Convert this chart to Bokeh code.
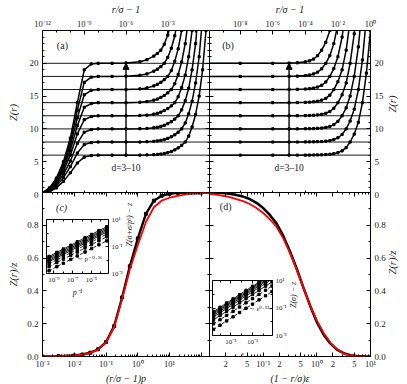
import math
import numpy as np
from bokeh.plotting import figure
from bokeh.models import (GridBox, Column, LogAxis, LinearAxis, FixedTicker, CustomJSTickFormatter,
                          Span, Label, Arrow, NormalHead, Range1d)
from bokeh.embed import file_html
from bokeh.resources import INLINE

NaN = float("nan")

# ---------------- data ----------------
d_values = [3, 4, 5, 6, 7, 8, 9, 10]
z_levels = [6, 8, 10, 12, 14, 16, 18, 20]   # z = 2d

# panel (a): Z(r) vs r/sigma - 1 at finite pressure
x_a = [1e-12, 3.2e-12, 1e-11, 3.2e-11, 1e-10, 3.2e-10, 1e-9, 3.2e-9, 1e-8, 1e-7, 1e-6, 1e-5,
       3.2e-5, 1e-4, 1.8e-4, 3.2e-4, 5.6e-4, 1e-3, 1.8e-3, 3.2e-3, 5.6e-3, 1e-2, 1.8e-2,
       3.2e-2, 5.6e-2, 0.1, 0.18, 0.32, 0.56, 1.0]
Za_d3 = [0.1, 0.4, 1.0, 2.0, 3.3, 4.8, 5.7, 5.94, 6.0, 6.0, 6.0, 6.0, 6.03, 6.07, 6.1, 6.17, 6.25,
         6.38, 6.55, 6.8, 7.1, 7.5, 8.0, 8.9, 10.3, 12.2, 15.0, 19.0, 25.0, 33.0]
Za_d4 = [0.14, 0.52, 1.28, 2.56, 4.24, 6.32, 7.6, 7.92, 8.0, 8.0, 8.0, 8.0, 8.05, 8.1, 8.17, 8.25,
         8.38, 8.55, 8.8, 9.1, 9.5, 10.0, 10.9, 12.3, 14.2, 17.0, 21.0, 27.0, NaN, NaN]
Za_d5 = [0.16, 0.62, 1.55, 3.1, 5.1, 7.8, 9.5, 9.9, 10.0, 10.0, 10.0, 10.03, 10.07, 10.17, 10.25,
         10.38, 10.55, 10.8, 11.1, 11.5, 12.0, 12.9, 14.3, 16.2, 19.0, 23.0, 29.0, NaN, NaN, NaN]
Za_d6 = [0.19, 0.72, 1.8, 3.6, 6.0, 9.24, 11.4, 11.88, 12.0, 12.0, 12.0, 12.05, 12.1, 12.25, 12.38,
         12.55, 12.8, 13.1, 13.5, 14.0, 14.9, 16.3, 18.2, 21.0, 25.0, 31.0, NaN, NaN, NaN, NaN]
Za_d7 = [0.22, 0.8, 1.96, 4.06, 6.72, 10.5, 13.3, 13.86, 14.0, 14.0, 14.0, 14.07, 14.17, 14.38,
         14.55, 14.8, 15.1, 15.5, 16.0, 16.9, 18.3, 20.2, 23.0, 27.0, NaN, NaN, NaN, NaN, NaN, NaN]
Za_d8 = [0.24, 0.88, 2.16, 4.4, 7.44, 11.68, 15.2, 15.89, 16.0, 16.0, 16.0, 16.1, 16.25, 16.55,
         16.8, 17.1, 17.5, 18.0, 18.9, 20.3, 22.2, 25.0, 29.0, NaN, NaN, NaN, NaN, NaN, NaN, NaN]
Za_d9 = [0.27, 0.94, 2.34, 4.68, 8.0, 12.87, 17.1, 17.89, 18.0, 18.0, 18.03, 18.17, 18.38, 18.8,
         19.1, 19.5, 20.0, 20.9, 22.3, 24.2, 27.0, NaN, NaN, NaN, NaN, NaN, NaN, NaN, NaN, NaN]
Za_d10 = [0.3, 1.0, 2.5, 5.0, 8.6, 14.0, 19.0, 19.9, 20.0, 20.0, 20.05, 20.25, 20.55, 21.1, 21.5,
          22.0, 22.9, 24.3, 26.2, NaN, NaN, NaN, NaN, NaN, NaN, NaN, NaN, NaN, NaN, NaN]

# panel (b): Z(r) vs r/sigma - 1 at jamming
x_b = [1e-10, 1e-8, 1e-6, 1e-5, 3.2e-5, 1e-4, 1.8e-4, 3.2e-4, 5.6e-4, 1e-3, 1.8e-3, 3.2e-3,
       5.6e-3, 1e-2, 1.8e-2, 3.2e-2, 5.6e-2, 0.1, 0.18, 0.32, 0.56, 1.0]
Zb_d3 = [6, 6, 6, 6, 6, 6.0, 6.01, 6.02, 6.03, 6.05, 6.08, 6.13, 6.22, 6.38, 6.65, 7.15, 8.0, 9.2,
         11.0, 14.0, 18.5, 25.0]
Zb_d4 = [8, 8, 8, 8, 8, 8.01, 8.02, 8.03, 8.05, 8.08, 8.13, 8.22, 8.38, 8.65, 9.15, 10.0, 11.2,
         13.0, 16.0, 20.5, 27.0, NaN]
Zb_d5 = [10, 10, 10, 10, 10.0, 10.02, 10.03, 10.05, 10.08, 10.13, 10.22, 10.38, 10.65, 11.15, 12.0,
         13.2, 15.0, 18.0, 22.5, 29.0, NaN, NaN]
Zb_d6 = [12, 12, 12, 12, 12.01, 12.03, 12.05, 12.08, 12.13, 12.22, 12.38, 12.65, 13.15, 14.0, 15.2,
         17.0, 20.0, 24.5, 31.0, NaN, NaN, NaN]
Zb_d7 = [14, 14, 14, 14.0, 14.02, 14.05, 14.08, 14.13, 14.22, 14.38, 14.65, 15.15, 16.0, 17.2, 19.0,
         22.0, 26.5, NaN, NaN, NaN, NaN, NaN]
Zb_d8 = [16, 16, 16, 16.01, 16.03, 16.08, 16.13, 16.22, 16.38, 16.65, 17.15, 18.0, 19.2, 21.0, 24.0,
         28.5, NaN, NaN, NaN, NaN, NaN, NaN]
Zb_d9 = [18, 18, 18, 18.02, 18.05, 18.13, 18.22, 18.38, 18.65, 19.15, 20.0, 21.2, 23.0, 26.0, NaN,
         NaN, NaN, NaN, NaN, NaN, NaN, NaN]
Zb_d10 = [20, 20, 20, 20.03, 20.08, 20.22, 20.38, 20.65, 21.15, 22.0, 23.2, 25.0, 28.0, NaN, NaN,
          NaN, NaN, NaN, NaN, NaN, NaN, NaN]

# panel (c): Z(r)/z vs (r/sigma - 1) p
x_c = [1e-3, 3.2e-3, 1e-2, 1.8e-2, 3.2e-2, 5.6e-2, 0.1, 0.18, 0.32, 0.56, 1.0, 1.8, 3.2, 5.6, 10,
       18, 32, 100, 200]
theory_c = [0.0, 0.002, 0.006, 0.012, 0.022, 0.042, 0.085, 0.18, 0.35, 0.53, 0.68, 0.82, 0.91, 0.95,
            0.968, 0.98, 0.988, 0.996, 0.999]
data_c = [0.0, 0.002, 0.006, 0.012, 0.023, 0.044, 0.088, 0.185, 0.36, 0.55, 0.72, 0.87, 0.95, 0.98,
          0.992, 0.998, 1.0, 1.0, 1.0]

# panel (d): Z(r)/z vs (1 - r/sigma) eps
x_d = [0.01, 0.0133, 0.0178, 0.0237, 0.0316, 0.0422, 0.0562, 0.075, 0.1, 0.133, 0.178, 0.237, 0.316,
       0.422, 0.562, 0.75, 1.0, 1.33, 1.78, 2.37, 3.16, 4.22, 5.62, 7.5, 10.0]
theory_d = [0.99, 0.987, 0.98, 0.972, 0.96, 0.947, 0.93, 0.905, 0.875, 0.837, 0.79, 0.72, 0.63, 0.53,
            0.42, 0.31, 0.22, 0.145, 0.085, 0.045, 0.018, 0.006, 0.002, 0.0005, 0.0]
data_d = [1.0, 0.999, 0.997, 0.993, 0.985, 0.975, 0.96, 0.937, 0.905, 0.863, 0.81, 0.735, 0.64, 0.535,
          0.42, 0.31, 0.21, 0.135, 0.08, 0.042, 0.02, 0.007, 0.003, 0.001, 0.0]

# inset (c): Z(sigma + sigma/p^gamma) - z vs 1/p
xi_c = [3e-10, 2e-9, 1e-8, 6e-8, 3e-7, 2e-6, 1e-5, 6e-5, 4e-4]
ic_d3 = [0.0016, 0.0032, 0.0058, 0.011, 0.02, 0.039, 0.07, 0.134, 0.26]
ic_d4 = [0.0032, 0.0065, 0.0116, 0.022, 0.039, 0.078, 0.139, 0.266, 0.52]
ic_d5 = [0.0052, 0.0103, 0.0183, 0.035, 0.062, 0.124, 0.222, 0.42, 0.82]
ic_d6 = [0.0073, 0.0146, 0.026, 0.0495, 0.088, 0.175, 0.312, 0.595, 1.16]
ic_d7 = [0.0092, 0.0183, 0.0327, 0.0623, 0.111, 0.222, 0.393, 0.75, 1.46]
ic_d8 = [0.0116, 0.0232, 0.0412, 0.0784, 0.139, 0.278, 0.495, 0.943, 1.83]
ic_d9 = [0.0146, 0.0291, 0.0519, 0.0987, 0.175, 0.35, 0.623, 1.18, 2.32]
ic_d10 = [0.0183, 0.0367, 0.0652, 0.124, 0.222, 0.441, 0.784, 1.5, 2.91]

# inset (d): Z(sigma) - z vs eps
xi_d = [2.5e-7, 1e-6, 4e-6, 1.6e-5, 6.3e-5, 2.5e-4, 1e-3, 4e-3, 1.6e-2, 6.3e-2]
id_d3 = [0.00282, 0.00562, 0.0115, 0.0229, 0.0468, 0.0955, 0.191, 0.389, 0.776, 1.58]
id_d4 = [0.00708, 0.0141, 0.0288, 0.0575, 0.117, 0.240, 0.479, 0.977, 1.95, 3.98]
id_d5 = [0.0141, 0.0282, 0.0575, 0.115, 0.234, 0.479, 0.955, 1.95, 3.89, 7.94]
id_d6 = [0.0224, 0.0447, 0.0912, 0.182, 0.372, 0.759, 1.51, 3.09, 6.17, 12.6]
id_d7 = [0.0295, 0.0589, 0.120, 0.240, 0.490, 1.0, 2.0, 4.07, 8.13, 16.6]
id_d8 = [0.0372, 0.0741, 0.151, 0.302, 0.617, 1.26, 2.51, 5.13, 10.2, 20.9]
id_d9 = [0.0457, 0.0912, 0.186, 0.372, 0.759, 1.55, 3.09, 6.31, 12.6, 25.7]
id_d10 = [0.0562, 0.112, 0.229, 0.457, 0.933, 1.91, 3.80, 7.76, 15.5, 31.6]

arrow_x_a = 1e-6
arrow_x_b = 1e-5
arrow_z = [6, 20]

# ---------------- layout / style ----------------
W, H = 405, 383
XL, XM, XR = 42, 209, 370
YT, YM, YB = 28, 192, 356
FONT = "Liberation Serif"
TXT = "#222222"

SUP_CODE = """
const sup = {'-':'\u207b','0':'\u2070','1':'\u00b9','2':'\u00b2','3':'\u00b3','4':'\u2074',
             '5':'\u2075','6':'\u2076','7':'\u2077','8':'\u2078','9':'\u2079'};
if (tick > 50 && tick < 500) { return ''; }
const e = Math.floor(Math.log10(tick) + 1e-9);
const m = Math.round(tick / Math.pow(10, e));
if (m === 1) { return '10' + String(e).split('').map(c => sup[c]).join(''); }
return String(m);
"""


def SUP():
    return CustomJSTickFormatter(code=SUP_CODE)


def EMPTY():
    return CustomJSTickFormatter(code="return '';")


def INT():
    return CustomJSTickFormatter(code="return tick.toFixed(0);")


def ONEDEC():
    return CustomJSTickFormatter(code="return tick > 0.95 ? '' : tick.toFixed(1);")


def make_panel(xr, yr, xlog, ylog, left, right, top, bottom):
    p = figure(frame_width=W - left - right, frame_height=H - top - bottom,
               x_range=Range1d(*xr), y_range=Range1d(*yr),
               x_axis_type="log" if xlog else "linear",
               y_axis_type="log" if ylog else "linear",
               x_axis_location=None, y_axis_location=None,
               toolbar_location=None, output_backend="svg",
               min_border_left=left, min_border_right=right,
               min_border_top=top, min_border_bottom=bottom)
    p.background_fill_color = "white"
    p.border_fill_color = None
    p.outline_line_color = "black"
    p.outline_line_width = 1
    p.grid.grid_line_color = None
    return p


def add_axis(p, side, log, ticks, minor, fmt, title=None, label_fs="9px", title_fs="10.5px",
             standoff=2, title_standoff=3, tick_in=4, minor_in=2):
    A = LogAxis if log else LinearAxis
    ax = A(ticker=FixedTicker(ticks=ticks, minor_ticks=minor), formatter=fmt)
    ax.axis_line_color = None
    ax.major_tick_in = tick_in
    ax.major_tick_out = 0
    ax.minor_tick_in = minor_in
    ax.minor_tick_out = 0
    ax.major_tick_line_color = "black"
    ax.minor_tick_line_color = "black"
    ax.major_label_text_font = FONT
    ax.major_label_text_font_size = label_fs
    ax.major_label_text_color = TXT
    ax.major_label_standoff = standoff
    if title:
        ax.axis_label = title
        ax.axis_label_text_font = FONT
        ax.axis_label_text_font_style = "italic"
        ax.axis_label_text_font_size = title_fs
        ax.axis_label_text_color = TXT
        ax.axis_label_standoff = title_standoff
        if side == "right" and "axis_label_orientation" in ax.properties():
            ax.axis_label_orientation = math.pi / 2
    p.add_layout(ax, side)
    return ax


def note(p, x, y, text, size="10px", style="normal", align="center"):
    p.add_layout(Label(x=x, y=y, text=text, text_font=FONT, text_font_size=size,
                       text_font_style=style, text_color=TXT, text_align=align,
                       text_baseline="middle"))


decades_a = [1e-12, 1e-9, 1e-6, 1e-3]
minor_a = [1e-11, 1e-10, 1e-8, 1e-7, 1e-5, 1e-4, 1e-2, 1e-1]
decades_b = [1e-8, 1e-6, 1e-4, 1e-2, 1.0]
minor_b = [1e-9, 1e-7, 1e-5, 1e-3, 1e-1]
z_ticks = [0, 5, 10, 15, 20]
z_minor = [v for v in range(1, 25) if v % 5 != 0]
f_ticks = [0, 0.2, 0.4, 0.6, 0.8, 1.0]
f_minor = [0.1, 0.3, 0.5, 0.7, 0.9]

curves_a = [Za_d3, Za_d4, Za_d5, Za_d6, Za_d7, Za_d8, Za_d9, Za_d10]
curves_b = [Zb_d3, Zb_d4, Zb_d5, Zb_d6, Zb_d7, Zb_d8, Zb_d9, Zb_d10]

# ---- (a) ----
pa = make_panel((1e-12, 1.0), (0, 25), True, False, XL, W - XM, YT, H - YM)
add_axis(pa, "above", True, decades_a, minor_a, SUP(), "r/\u03c3 \u2212 1", label_fs="8.5px",
         title_fs="10px", standoff=2, title_standoff=1)
add_axis(pa, "below", True, decades_a, minor_a, EMPTY())
add_axis(pa, "left", False, z_ticks, z_minor, INT(), "Z(r)", standoff=4, title_standoff=8)
add_axis(pa, "right", False, z_ticks, z_minor, EMPTY())
for z in z_levels:
    pa.add_layout(Span(location=z, dimension="width", line_color="black", line_width=0.9))
for zs in curves_a:
    arr = np.array(zs, dtype=float)
    pa.line(x_a, arr, line_color="black", line_width=1.5)
    pa.scatter(x_a, arr, marker="square", size=2.2, color="black")
pa.add_layout(Arrow(end=NormalHead(size=6, fill_color="black", line_color="black"),
                    x_start=arrow_x_a, y_start=arrow_z[0], x_end=arrow_x_a, y_end=arrow_z[1],
                    line_width=1.4, line_color="black"))
note(pa, 1e-6, 4.1, "d=3\u201310", size="9.5px")
note(pa, 2.7e-11, 22.7, "(a)", size="10px")

# ---- (b) ----
pb = make_panel((1.3e-10, 1.0), (0, 25), True, False, XM, W - XR, YT, H - YM)
add_axis(pb, "above", True, decades_b, minor_b, SUP(), "r/\u03c3 \u2212 1", label_fs="8.5px",
         title_fs="10px", standoff=2, title_standoff=1)
add_axis(pb, "below", True, decades_b, minor_b, EMPTY())
add_axis(pb, "right", False, z_ticks, z_minor, INT(), "Z(r)", standoff=4, title_standoff=6)
add_axis(pb, "left", False, z_ticks, z_minor, EMPTY())
for z in z_levels:
    pb.add_layout(Span(location=z, dimension="width", line_color="black", line_width=0.9))
for zs in curves_b:
    arr = np.array(zs, dtype=float)
    pb.line(x_b, arr, line_color="black", line_width=1.5)
    pb.scatter(x_b, arr, marker="square", size=2.2, color="black")
pb.add_layout(Arrow(end=NormalHead(size=6, fill_color="black", line_color="black"),
                    x_start=arrow_x_b, y_start=arrow_z[0], x_end=arrow_x_b, y_end=arrow_z[1],
                    line_width=1.4, line_color="black"))
note(pb, 1e-5, 4.1, "d=3\u201310", size="9.5px")
note(pb, 1.8e-9, 22.7, "(b)", size="10px")

# ---- (c) ----
c_major = [1e-3, 1e-2, 1e-1, 1.0, 10.0, 100.0]
c_minor = [m * 10.0 ** e for e in range(-3, 3) for m in range(2, 10) if m * 10.0 ** e < 180]
pc = make_panel((1e-3, 180), (0, 1), True, False, XL, W - XM, YM, H - YB)
add_axis(pc, "below", True, c_major, c_minor, SUP(), "(r/\u03c3 \u2212 1)p", label_fs="8.5px",
         title_fs="10px", standoff=2, title_standoff=1)
add_axis(pc, "above", True, c_major, c_minor, EMPTY())
add_axis(pc, "left", False, f_ticks, f_minor, ONEDEC(), "Z(r)/z", standoff=4, title_standoff=5)
add_axis(pc, "right", False, f_ticks, f_minor, EMPTY())
pc.line(x_c, data_c, line_color="black", line_width=2.4)
pc.scatter(x_c, data_c, marker="square", size=3.0, color="black")
pc.line(x_c, theory_c, line_color="#ff0000", line_width=1.8)
note(pc, 4e-3, 0.91, "(c)", size="10px", style="italic")

# ---- (d) ----
d_major = [0.02, 0.05, 0.1, 0.2, 0.5, 1.0, 2.0, 5.0, 10.0]
d_minor = [m * 10.0 ** e for e in range(-2, 1) for m in (3, 4, 6, 7, 8, 9)]
pd_ = make_panel((0.01, 10.0), (0, 1), True, False, XM, W - XR, YM, H - YB)
add_axis(pd_, "below", True, d_major, d_minor, SUP(), "(1 \u2212 r/\u03c3)\u03b5", label_fs="8.5px",
         title_fs="10px", standoff=2, title_standoff=1)
add_axis(pd_, "above", True, d_major, d_minor, EMPTY())
add_axis(pd_, "right", False, f_ticks, f_minor, ONEDEC(), "Z(r)/z", standoff=4, title_standoff=4)
add_axis(pd_, "left", False, f_ticks, f_minor, EMPTY())
pd_.line(x_d, data_d, line_color="black", line_width=2.6)
pd_.line(x_d, theory_d, line_color="#ff0000", line_width=1.8)
note(pd_, 0.02, 0.915, "(d)", size="10px")

# ---- inset (c) ----
ic_curves = [ic_d3, ic_d4, ic_d5, ic_d6, ic_d7, ic_d8, ic_d9, ic_d10]
ic = make_panel((1.6e-10, 6.3e-4), (1e-3, 10), True, True, 46, W - 108, 219, H - 273)
add_axis(ic, "below", True, [1e-9, 1e-7, 1e-5], [1e-10, 1e-8, 1e-6, 1e-4], SUP(), "p\u207b\u00b9",
         label_fs="7px", title_fs="8px", standoff=2, title_standoff=1, tick_in=3, minor_in=2)
add_axis(ic, "above", True, [1e-9, 1e-7, 1e-5], [1e-10, 1e-8, 1e-6, 1e-4], EMPTY(), tick_in=3, minor_in=2)
add_axis(ic, "right", True, [1e-3, 1e-1, 10], [1e-2, 1.0], SUP(), "Z(\u03c3+\u03c3/p\u1d5e) \u2212 z",
         label_fs="7px", title_fs="8px", standoff=3, title_standoff=4, tick_in=3, minor_in=2)
add_axis(ic, "left", True, [1e-3, 1e-1, 10], [1e-2, 1.0], EMPTY(), tick_in=3, minor_in=2)
for k, ys in enumerate(ic_curves):
    dash = "3 2" if k < 3 else "solid"
    ic.line(xi_c, ys, line_color="black", line_width=0.9, line_dash=dash)
    ic.scatter(xi_c, ys, marker="square", size=2.4, color="black")
note(ic, 4.3e-6, 0.0126, "\u223c p\u207b\u2070\u00b7\u00b3\u2076", size="7px")

# ---- inset (d) ----
id_curves = [id_d3, id_d4, id_d5, id_d6, id_d7, id_d8, id_d9, id_d10]
idd = make_panel((2e-7, 7e-2), (1e-3, 10), True, True, 212, W - 272, 280, H - 335)
add_axis(idd, "below", True, [1e-5, 1e-3], [1e-6, 1e-4, 1e-2], SUP(), "\u03b5",
         label_fs="7px", title_fs="8px", standoff=2, title_standoff=1, tick_in=3, minor_in=2)
add_axis(idd, "above", True, [1e-5, 1e-3], [1e-6, 1e-4, 1e-2], EMPTY(), tick_in=3, minor_in=2)
add_axis(idd, "right", True, [1e-3, 1e-1, 10], [1e-2, 1.0], SUP(), "Z(\u03c3) \u2212 z",
         label_fs="7px", title_fs="8px", standoff=3, title_standoff=4, tick_in=3, minor_in=2)
add_axis(idd, "left", True, [1e-3, 1e-1, 10], [1e-2, 1.0], EMPTY(), tick_in=3, minor_in=2)
for k, ys in enumerate(id_curves):
    dash = "3 2" if k < 2 else "solid"
    idd.line(xi_d, ys, line_color="black", line_width=0.9, line_dash=dash)
    idd.scatter(xi_d, ys, marker="square", size=2.4, color="black")
note(idd, 3.6e-3, 0.091, "\u223c \u03b5\u2070\u00b7\u2075\u00b9", size="7px")

figs = [pa, pb, pc, pd_, ic, idd]
grid = GridBox(children=[(Column(children=[f]), 0, 0) for f in figs])

open("out.html", "w").write(file_html(grid, INLINE))
